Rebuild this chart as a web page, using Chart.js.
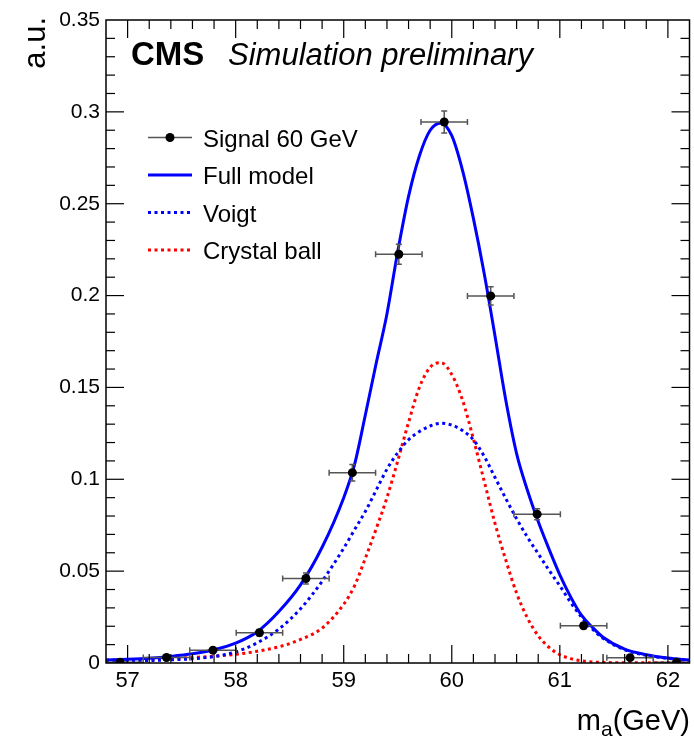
<!DOCTYPE html>
<html>
<head>
<meta charset="utf-8">
<title>Signal 60 GeV fit</title>
<script src="https://cdn.jsdelivr.net/npm/chart.js@4.4.1/dist/chart.umd.min.js"></script>
<style>
  html, body { margin: 0; padding: 0; background: #fff; }
  #wrap { width: 694px; height: 737px; }
</style>
</head>
<body>
<div id="wrap"><canvas id="chart" width="694" height="737"></canvas></div>
<script>
// Signal sample: bin centres, contents and errors
const binCenters = [56.93, 57.36, 57.79, 58.22, 58.65, 59.08, 59.51, 59.93, 60.36, 60.79, 61.22, 61.65, 62.08];
const binValues  = [0.0004, 0.003, 0.007, 0.0165, 0.046, 0.1036, 0.2225, 0.2945, 0.1998, 0.081, 0.0203, 0.0029, 0.0004];
const binErrors  = [0.0003, 0.0008, 0.0012, 0.0018, 0.003, 0.0045, 0.0055, 0.006, 0.005, 0.003, 0.0015, 0.0006, 0.0003];
const binHalfWidth = 0.215;

// Fit model and its two components, sampled along m_a
const modelMass = [56.8, 57.0, 57.2, 57.4, 57.6, 57.8, 58.0, 58.2, 58.4, 58.6, 58.8, 59.0, 59.1, 59.2, 59.3,
                   59.4, 59.5, 59.6, 59.7, 59.8, 59.9, 60.0, 60.1, 60.2, 60.3, 60.4, 60.5, 60.6, 60.7, 60.8,
                   60.9, 61.0, 61.1, 61.2, 61.3, 61.4, 61.6, 61.8, 62.0, 62.2];
const fullModel = [0.0016, 0.002, 0.0026, 0.0036, 0.005, 0.0072, 0.0108, 0.017, 0.028, 0.0425, 0.063, 0.090, 0.108, 0.135, 0.163,
                   0.190, 0.224, 0.254, 0.276, 0.290, 0.294, 0.287, 0.268, 0.242, 0.212, 0.178, 0.143, 0.114, 0.094, 0.077,
                   0.062, 0.048, 0.036, 0.026, 0.0195, 0.014, 0.0075, 0.0045, 0.0027, 0.0016];
const voigtPart = [0.0008, 0.001, 0.0013, 0.0017, 0.0023, 0.0035, 0.006, 0.011, 0.0185, 0.0295, 0.0445, 0.0625, 0.0725, 0.0825, 0.094,
                   0.1055, 0.1145, 0.1215, 0.126, 0.129, 0.1305, 0.1295, 0.1265, 0.1215, 0.1125, 0.101, 0.0895, 0.0785, 0.0685, 0.0595,
                   0.0505, 0.042, 0.033, 0.025, 0.0185, 0.0135, 0.0072, 0.0042, 0.0025, 0.0015];
const crystalBallPart = [0.0016, 0.0018, 0.002, 0.0024, 0.003, 0.0037, 0.0047, 0.0064, 0.0088, 0.0128, 0.019, 0.032, 0.042, 0.057, 0.073,
                   0.090, 0.110, 0.131, 0.150, 0.161, 0.1635, 0.157, 0.143, 0.122, 0.099, 0.076, 0.056, 0.038, 0.0245, 0.0148,
                   0.0085, 0.0045, 0.0024, 0.0012, 0.0006, 0.0003, 0.0001, 0.0001, 0.0001, 0.0001];

// Axis ticks
const xTicks = [57, 58, 59, 60, 61, 62];
const yTicks = [0, 0.05, 0.1, 0.15, 0.2, 0.25, 0.3, 0.35];
const yTickLabels = ['0', '0.05', '0.1', '0.15', '0.2', '0.25', '0.3', '0.35'];

const FONT = "'Liberation Sans', Arial, Helvetica, sans-serif";

function toPoints(xs, ys) {
    return xs.map((v, i) => ({ x: v, y: ys[i] }));
}

// ROOT-like frame, inward ticks, error bars, titles and legend
const rootStyle = {
    id: 'rootStyle',
    beforeDatasetDraw(chart, args) {
        if (args.index !== 0) return;
        const ctx = chart.ctx;
        const xs = chart.scales.x;
        const ys = chart.scales.y;
        const area = chart.chartArea;
        ctx.save();
        ctx.beginPath();
        ctx.rect(area.left, area.top, area.right - area.left, area.bottom - area.top);
        ctx.clip();
        ctx.strokeStyle = '#555';
        ctx.lineWidth = 1.5;
        binCenters.forEach((c, i) => {
            const px = xs.getPixelForValue(c);
            const py = ys.getPixelForValue(binValues[i]);
            const x1 = xs.getPixelForValue(c - binHalfWidth);
            const x2 = xs.getPixelForValue(c + binHalfWidth);
            const y1 = ys.getPixelForValue(binValues[i] - binErrors[i]);
            const y2 = ys.getPixelForValue(binValues[i] + binErrors[i]);
            ctx.beginPath();
            ctx.moveTo(x1, py); ctx.lineTo(x2, py);
            ctx.moveTo(x1, py - 3); ctx.lineTo(x1, py + 3);
            ctx.moveTo(x2, py - 3); ctx.lineTo(x2, py + 3);
            ctx.moveTo(px, y1); ctx.lineTo(px, y2);
            ctx.moveTo(px - 3, y1); ctx.lineTo(px + 3, y1);
            ctx.moveTo(px - 3, y2); ctx.lineTo(px + 3, y2);
            ctx.stroke();
        });
        ctx.restore();
    },
    afterDraw(chart) {
        const ctx = chart.ctx;
        const xs = chart.scales.x;
        const ys = chart.scales.y;
        const { left, right, top, bottom } = chart.chartArea;
        ctx.save();

        // frame
        ctx.strokeStyle = '#000';
        ctx.lineWidth = 1.5;
        ctx.strokeRect(left, top, right - left, bottom - top);

        // ticks on all four sides
        const line = (a, b, c, d) => { ctx.beginPath(); ctx.moveTo(a, b); ctx.lineTo(c, d); ctx.stroke(); };
        ctx.lineWidth = 1.2;
        for (let i = 1; i < 27; i++) {
            const v = 56.8 + i * 0.2;
            const major = Math.abs(v - Math.round(v)) < 1e-6;
            const len = major ? 18 : 9;
            const px = xs.getPixelForValue(v);
            line(px, bottom, px, bottom - len);
            line(px, top, px, top + len);
        }
        for (let i = 1; i < 35; i++) {
            const v = i * 0.01;
            const len = i % 5 === 0 ? 18 : 9;
            const py = ys.getPixelForValue(v);
            line(left, py, left + len, py);
            line(right, py, right - len, py);
        }

        // axis titles
        ctx.fillStyle = '#000';
        ctx.font = '29px ' + FONT;
        ctx.textBaseline = 'alphabetic';
        ctx.textAlign = 'left';
        const tail = '(GeV)';
        const wTail = ctx.measureText(tail).width;
        const wM = ctx.measureText('m').width;
        ctx.font = '21px ' + FONT;
        const wSub = ctx.measureText('a').width;
        let tx = 690 - wTail - wSub - wM;
        ctx.font = '29px ' + FONT;
        ctx.fillText('m', tx, 730);
        ctx.font = '21px ' + FONT;
        ctx.fillText('a', tx + wM, 736);
        ctx.font = '29px ' + FONT;
        ctx.fillText(tail, tx + wM + wSub, 730);

        ctx.save();
        ctx.translate(45, 17);
        ctx.rotate(-Math.PI / 2);
        ctx.textAlign = 'right';
        ctx.font = '31px ' + FONT;
        ctx.fillText('a.u.', 0, 0);
        ctx.restore();

        // experiment label
        ctx.textAlign = 'left';
        ctx.font = 'bold 33px ' + FONT;
        ctx.fillText('CMS', 131, 65);
        ctx.font = 'italic 31px ' + FONT;
        ctx.fillText('Simulation preliminary', 228, 65);

        // legend
        ctx.font = '24px ' + FONT;
        chart.data.datasets.forEach((ds, i) => {
            const ly = 137.5 + i * 37.5;
            ctx.save();
            if (i === 0) {
                ctx.strokeStyle = '#555';
                ctx.lineWidth = 1.5;
                line(148, ly, 192, ly);
                ctx.fillStyle = '#000';
                ctx.beginPath();
                ctx.arc(170, ly, 4.5, 0, Math.PI * 2);
                ctx.fill();
            } else {
                ctx.strokeStyle = ds.borderColor;
                ctx.lineWidth = ds.borderWidth;
                ctx.setLineDash(ds.borderDash || []);
                line(148, ly, 192, ly);
            }
            ctx.restore();
            ctx.fillText(ds.label, 203, ly + 9);
        });

        ctx.restore();
    }
};

new Chart(document.getElementById('chart'), {
    type: 'line',
    data: {
        datasets: [
            {
                label: 'Signal 60 GeV',
                data: toPoints(binCenters, binValues),
                showLine: false,
                pointRadius: 4.5,
                pointBackgroundColor: '#000',
                pointBorderColor: '#000',
                pointBorderWidth: 0
            },
            {
                label: 'Full model',
                data: toPoints(modelMass, fullModel),
                borderColor: '#0000ff',
                borderWidth: 3,
                pointRadius: 0,
                cubicInterpolationMode: 'monotone'
            },
            {
                label: 'Voigt',
                data: toPoints(modelMass, voigtPart),
                borderColor: '#0000ff',
                borderWidth: 3,
                borderDash: [3, 3.5],
                pointRadius: 0,
                cubicInterpolationMode: 'monotone'
            },
            {
                label: 'Crystal ball',
                data: toPoints(modelMass, crystalBallPart),
                borderColor: '#ff0000',
                borderWidth: 3,
                borderDash: [3, 3.5],
                pointRadius: 0,
                cubicInterpolationMode: 'monotone'
            }
        ]
    },
    options: {
        responsive: false,
        animation: false,
        devicePixelRatio: 1,
        layout: { padding: { top: 20, right: 2, left: 0, bottom: 0 } },
        plugins: {
            legend: { display: false },
            tooltip: { enabled: false }
        },
        scales: {
            x: {
                type: 'linear',
                min: 56.8,
                max: 62.2,
                afterBuildTicks: (s) => { s.ticks = xTicks.map(v => ({ value: v })); },
                afterFit: (s) => { s.height = 74; },
                grid: { display: false, drawTicks: false },
                border: { display: false },
                ticks: {
                    font: { family: FONT, size: 22 },
                    color: '#000',
                    padding: 5,
                    maxRotation: 0,
                    callback: (v) => String(v)
                }
            },
            y: {
                type: 'linear',
                min: 0,
                max: 0.35,
                afterBuildTicks: (s) => { s.ticks = yTicks.map(v => ({ value: v })); },
                afterFit: (s) => { s.width = 106; },
                grid: { display: false, drawTicks: false },
                border: { display: false },
                ticks: {
                    font: { family: FONT, size: 21 },
                    color: '#000',
                    padding: 6,
                    callback: (v, i) => yTickLabels[i]
                }
            }
        }
    },
    plugins: [rootStyle]
});
</script>
</body>
</html>
